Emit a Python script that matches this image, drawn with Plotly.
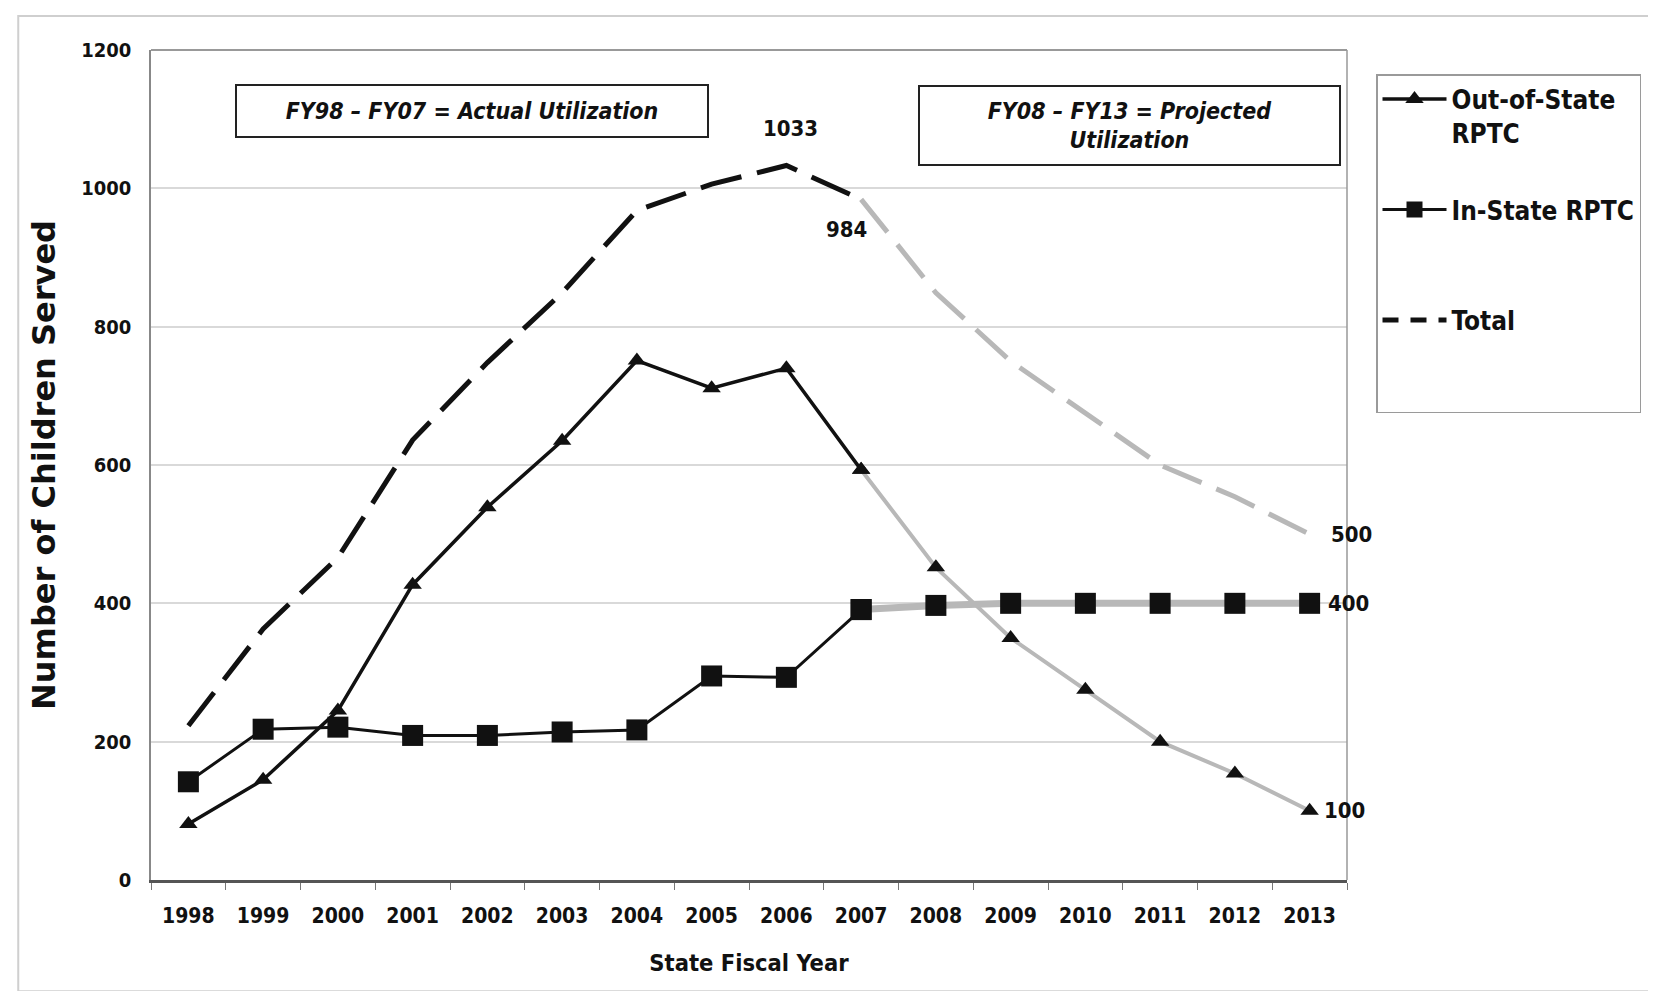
import plotly.graph_objects as go

years = [1998, 1999, 2000, 2001, 2002, 2003, 2004, 2005, 2006, 2007, 2008, 2009, 2010, 2011, 2012, 2013]
out_of_state = [81, 145, 245, 427, 539, 635, 751, 711, 740, 593, 452, 350, 275, 200, 154, 100]
in_state = [142, 218, 221, 209, 209, 214, 217, 295, 293, 391, 397, 400, 400, 400, 400, 400]
total = [223, 363, 466, 636, 748, 849, 968, 1006, 1033, 984, 849, 750, 675, 600, 554, 500]
tick_labels = [str(y) for y in years]
split = 9  # index of 2007, last actual year

NARROW = "DejaVu Sans Condensed, Liberation Sans Narrow, Arial Narrow, Liberation Sans, Arial, sans-serif"
BLACK = "#111111"
GRAY = "#b8b8b8"

fig = go.Figure()

# Projected segments (gray)
fig.add_trace(go.Scatter(x=years[split:], y=total[split:], mode="lines",
                         line=dict(color=GRAY, width=5, dash="42px,16px"),
                         showlegend=False, hoverinfo="skip"))
fig.add_trace(go.Scatter(x=years[split:], y=out_of_state[split:], mode="lines+markers",
                         line=dict(color=GRAY, width=4),
                         marker=dict(symbol="triangle-up", size=16, color=BLACK),
                         showlegend=False))
fig.add_trace(go.Scatter(x=years[split:], y=in_state[split:], mode="lines+markers",
                         line=dict(color=GRAY, width=7),
                         marker=dict(symbol="square", size=21, color=BLACK),
                         showlegend=False))

# Actual segments (black)
fig.add_trace(go.Scatter(x=years[:split + 1], y=out_of_state[:split + 1], mode="lines+markers",
                         name="Out-of-State<br>RPTC",
                         line=dict(color=BLACK, width=3.5),
                         marker=dict(symbol="triangle-up", size=16, color=BLACK),
                         legendgroup="a"))
fig.add_trace(go.Scatter(x=years[:split + 1], y=in_state[:split + 1], mode="lines+markers",
                         name="In-State RPTC<br> ",
                         line=dict(color=BLACK, width=3),
                         marker=dict(symbol="square", size=21, color=BLACK),
                         legendgroup="b"))
fig.add_trace(go.Scatter(x=years[:split + 1], y=total[:split + 1], mode="lines",
                         line=dict(color=BLACK, width=5, dash="42px,16px"),
                         showlegend=False))
# legend proxy for Total (shorter dashes so the pattern shows in the legend)
fig.add_trace(go.Scatter(x=[None], y=[None], mode="lines", name="Total<br> <br> ",
                         line=dict(color=BLACK, width=5, dash="16px,12px"),
                         legendgroup="c"))

ann_font = dict(family=NARROW, size=22, color=BLACK, weight="bold")
annotations = [
    dict(x=years[8], y=total[8], xref="x", yref="y", text=str(total[8]), showarrow=False,
         xshift=4, yshift=37, font=ann_font),
    dict(x=years[9], y=total[9], xref="x", yref="y", text=str(total[9]), showarrow=False,
         xshift=-15, yshift=-30, font=ann_font),
    dict(x=years[-1], y=total[-1], xref="x", yref="y", text=str(total[-1]), showarrow=False,
         xshift=42, yshift=0, font=ann_font),
    dict(x=years[-1], y=in_state[-1], xref="x", yref="y", text=str(in_state[-1]), showarrow=False,
         xshift=39, yshift=0, font=ann_font),
    dict(x=years[-1], y=out_of_state[-1], xref="x", yref="y", text=str(out_of_state[-1]), showarrow=False,
         xshift=35, yshift=0, font=ann_font),
    dict(x=0.268, y=0.9265, xref="paper", yref="paper", xanchor="center", yanchor="middle",
         showarrow=False, text="<i>FY98 – FY07 = Actual Utilization</i>",
         width=470, height=50, borderpad=0, bordercolor="#222222", borderwidth=2,
         bgcolor="white", font=dict(family=NARROW, size=23, color=BLACK, weight="bold")),
    dict(x=0.818, y=0.909, xref="paper", yref="paper", xanchor="center", yanchor="middle",
         showarrow=False, text="<i>FY08 – FY13 = Projected<br>Utilization</i>",
         width=419, height=77, borderpad=0, bordercolor="#222222", borderwidth=2,
         bgcolor="white", font=dict(family=NARROW, size=23, color=BLACK, weight="bold")),
]

fig.update_layout(
    width=1656, height=991,
    margin=dict(l=143, r=317, t=42, b=119, autoexpand=False),
    paper_bgcolor="white", plot_bgcolor="white",
    annotations=annotations,
    showlegend=True,
    legend=dict(xref="container", yref="container", x=1368 / 1656, y=1 - 66 / 991,
                xanchor="left", yanchor="top", valign="top",
                bordercolor="#9a9a9a", borderwidth=1.5, bgcolor="white",
                font=dict(family=NARROW, size=26, color=BLACK, weight="bold"),
                tracegroupgap=40, itemwidth=64, traceorder="grouped"),
    shapes=[dict(type="rect", xref="paper", yref="paper",
                 x0=-0.111, x1=1.262, y0=-0.134, y1=1.041,
                 line=dict(color="#cfcfcf", width=2))],
)

fig.update_xaxes(
    range=[1997.5, 2013.5], tickvals=years, ticktext=tick_labels, automargin=False,
    showgrid=False, showline=True, linecolor="#555555", linewidth=2.5,
    mirror=False, ticks="", zeroline=False,
    minor=dict(ticks="outside", tick0=1997.5, dtick=1, ticklen=7, tickcolor="#777777", showgrid=False),
    tickfont=dict(family=NARROW, size=21, color=BLACK, weight="bold"),
    ticklabelstandoff=15,
    title=dict(text="State Fiscal Year", standoff=28,
               font=dict(family=NARROW, size=23.5, color=BLACK, weight="bold")),
)
fig.update_yaxes(
    range=[0, 1200], dtick=200, showgrid=True, gridcolor="#d9d9d9", gridwidth=1.5,
    showline=True, linecolor="#888888", linewidth=1.5, zeroline=False, automargin=False,
    tickfont=dict(family=NARROW, size=20, color=BLACK, weight="bold"),
    ticklabelstandoff=14,
    title=dict(text="Number of Children Served", standoff=16,
               font=dict(family="DejaVu Sans", size=32, color=BLACK, weight="bold")),
)
# top and right plot-area border
fig.add_shape(type="line", xref="paper", yref="paper", x0=0, x1=1, y0=1, y1=1,
              line=dict(color="#999999", width=2))
fig.add_shape(type="line", xref="paper", yref="paper", x0=1, x1=1, y0=0, y1=1,
              line=dict(color="#999999", width=1.5))

fig.write_html("out.html")
